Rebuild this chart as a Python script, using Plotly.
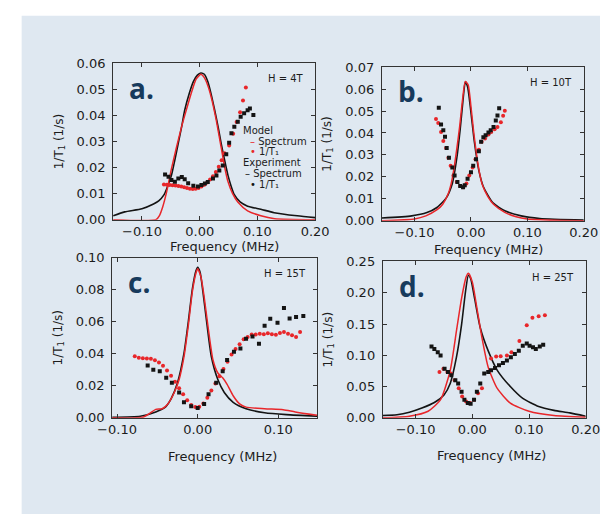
import plotly.graph_objects as go

# ---------------- data ----------------
# Panel a (H = 4T)
a_spec_exp_x = [-0.150, -0.130, -0.100, -0.080, -0.071, -0.062, -0.057, -0.049, -0.043, -0.037, -0.031, -0.026, -0.018, -0.011, -0.004, 0.002, 0.008, 0.014, 0.020, 0.026, 0.032, 0.037, 0.043, 0.049, 0.055, 0.060, 0.070, 0.083, 0.106, 0.129, 0.169, 0.200]
a_spec_exp_y = [0.0015, 0.0030, 0.0042, 0.0060, 0.0072, 0.0095, 0.0120, 0.0170, 0.0230, 0.0295, 0.0360, 0.0420, 0.0485, 0.0530, 0.0555, 0.0563, 0.0558, 0.0530, 0.0480, 0.0420, 0.0355, 0.0295, 0.0230, 0.0170, 0.0125, 0.0096, 0.0068, 0.0052, 0.0040, 0.0027, 0.0015, 0.0008]
a_spec_mod_x = [-0.150, -0.076, -0.070, -0.064, -0.058, -0.049, -0.040, -0.031, -0.022, -0.014, -0.006, 0.002, 0.008, 0.014, 0.020, 0.028, 0.037, 0.043, 0.049, 0.057, 0.066, 0.083, 0.106, 0.130, 0.200]
a_spec_mod_y = [0.0, 0.0, 0.0015, 0.0050, 0.0100, 0.0195, 0.0280, 0.0360, 0.0430, 0.0490, 0.0540, 0.0558, 0.0545, 0.0515, 0.0470, 0.0390, 0.0280, 0.0205, 0.0146, 0.0100, 0.0068, 0.0034, 0.0015, 0.0004, 0.0]
a_t1_mod_x = [-0.062, -0.057, -0.052, -0.047, -0.042, -0.037, -0.032, -0.027, -0.022, -0.017, -0.012, -0.007, -0.002, 0.003, 0.008, 0.013, 0.018, 0.023, 0.028, 0.033, 0.038, 0.043, 0.051, 0.058, 0.064, 0.070, 0.075, 0.080]
a_t1_mod_y = [0.0135, 0.0134, 0.0133, 0.0132, 0.0131, 0.0129, 0.0127, 0.0125, 0.0122, 0.0119, 0.0118, 0.0119, 0.0122, 0.0127, 0.0134, 0.0143, 0.0154, 0.0167, 0.0183, 0.0203, 0.0228, 0.0255, 0.0285, 0.0330, 0.0375, 0.0412, 0.0457, 0.0507]
a_t1_exp_x = [-0.060, -0.054, -0.049, -0.043, -0.037, -0.031, -0.026, -0.020, -0.011, -0.003, 0.003, 0.009, 0.014, 0.023, 0.029, 0.034, 0.040, 0.046, 0.051, 0.055, 0.060, 0.066, 0.071, 0.077, 0.083, 0.087, 0.093]
a_t1_exp_y = [0.0173, 0.0165, 0.0152, 0.0146, 0.0158, 0.0164, 0.0155, 0.0140, 0.0130, 0.0127, 0.0133, 0.0139, 0.0145, 0.0158, 0.0170, 0.0189, 0.0208, 0.0251, 0.0295, 0.0332, 0.0357, 0.0376, 0.0395, 0.0408, 0.0420, 0.0427, 0.0402]

# Panel b (H = 10T)
b_spec_exp_x = [-0.158, -0.105, -0.078, -0.061, -0.044, -0.033, -0.025, -0.019, -0.014, -0.010, -0.006, 0.000, 0.006, 0.014, 0.022, 0.039, 0.061, 0.089, 0.122, 0.200]
b_spec_exp_y = [0.0012, 0.0022, 0.0037, 0.0059, 0.0103, 0.0170, 0.0287, 0.0420, 0.0552, 0.0633, 0.0611, 0.0493, 0.0360, 0.0228, 0.0155, 0.0081, 0.0044, 0.0022, 0.0010, 0.0003]
b_spec_mod_x = [-0.158, -0.100, -0.080, -0.060, -0.050, -0.040, -0.035, -0.030, -0.025, -0.020, -0.015, -0.010, -0.005, 0.000, 0.005, 0.010, 0.015, 0.020, 0.030, 0.040, 0.060, 0.080, 0.100, 0.150, 0.200]
b_spec_mod_y = [0.0, 0.0008, 0.0022, 0.0050, 0.0075, 0.0125, 0.0170, 0.0240, 0.0330, 0.0430, 0.0550, 0.0635, 0.0620, 0.0520, 0.0400, 0.0300, 0.0220, 0.0165, 0.0110, 0.0075, 0.0038, 0.0018, 0.0008, 0.0002, 0.0]
b_t1_mod_x = [-0.062, -0.058, -0.053, -0.049, -0.044, -0.040, -0.036, -0.031, -0.025, -0.019, -0.014, -0.008, -0.003, 0.003, 0.008, 0.014, 0.019, 0.025, 0.031, 0.036, 0.042, 0.047, 0.053, 0.057, 0.060]
b_t1_mod_y = [0.0464, 0.0445, 0.0405, 0.0364, 0.0331, 0.0287, 0.0250, 0.0206, 0.0177, 0.0158, 0.0152, 0.0170, 0.0206, 0.0243, 0.0280, 0.0324, 0.0360, 0.0375, 0.0393, 0.0405, 0.0417, 0.0427, 0.0449, 0.0479, 0.0501]
b_t1_exp_x = [-0.057, -0.053, -0.049, -0.046, -0.043, -0.039, -0.033, -0.029, -0.024, -0.019, -0.014, -0.011, -0.006, 0.000, 0.004, 0.009, 0.014, 0.018, 0.022, 0.026, 0.031, 0.035, 0.040, 0.044, 0.047, 0.050]
b_t1_exp_y = [0.0515, 0.0439, 0.0412, 0.0383, 0.0331, 0.0287, 0.0243, 0.0206, 0.0177, 0.0158, 0.0152, 0.0162, 0.0191, 0.0221, 0.0250, 0.0280, 0.0317, 0.0360, 0.0380, 0.0390, 0.0402, 0.0412, 0.0427, 0.0457, 0.0480, 0.0513]

# Panel c (H = 15T)
c_spec_exp_x = [-0.106, -0.071, -0.052, -0.040, -0.033, -0.025, -0.017, -0.0115, -0.0065, -0.002, 0.000, 0.003, 0.0065, 0.0115, 0.017, 0.025, 0.033, 0.044, 0.060, 0.083, 0.110, 0.148]
c_spec_exp_y = [0.0004, 0.0010, 0.0037, 0.0067, 0.0118, 0.0219, 0.0402, 0.0604, 0.0807, 0.0919, 0.0940, 0.0909, 0.0787, 0.0584, 0.0381, 0.0239, 0.0158, 0.0097, 0.0057, 0.0032, 0.0020, 0.0010]
c_spec_mod_x = [-0.106, -0.068, -0.060, -0.052, -0.044, -0.037, -0.029, -0.023, -0.017, -0.0115, -0.0065, -0.002, 0.000, 0.004, 0.0077, 0.0135, 0.019, 0.025, 0.031, 0.0365, 0.044, 0.052, 0.060, 0.083, 0.106, 0.121, 0.148]
c_spec_mod_y = [0.0, 0.0004, 0.0026, 0.0053, 0.0057, 0.0087, 0.0158, 0.0239, 0.0380, 0.0580, 0.0790, 0.0905, 0.0930, 0.0880, 0.0767, 0.0544, 0.0361, 0.0280, 0.0250, 0.0209, 0.0138, 0.0087, 0.0067, 0.0057, 0.0051, 0.0037, 0.0016]
c_t1_mod_x = [-0.078, -0.073, -0.068, -0.063, -0.058, -0.053, -0.048, -0.043, -0.038, -0.033, -0.028, -0.023, -0.018, -0.013, -0.008, -0.003, 0.002, 0.007, 0.012, 0.017, 0.022, 0.027, 0.032, 0.037, 0.042, 0.047, 0.052, 0.057, 0.062, 0.067, 0.072, 0.077, 0.082, 0.087, 0.092, 0.097, 0.102, 0.107, 0.112, 0.117, 0.122, 0.127]
c_t1_mod_y = [0.0385, 0.0375, 0.0372, 0.0370, 0.0368, 0.0360, 0.0345, 0.0325, 0.0295, 0.0262, 0.0225, 0.0185, 0.0148, 0.0110, 0.0080, 0.0068, 0.0070, 0.0090, 0.0125, 0.0170, 0.0215, 0.0260, 0.0305, 0.0350, 0.0395, 0.0430, 0.0460, 0.0490, 0.0505, 0.0520, 0.0520, 0.0525, 0.0522, 0.0528, 0.0522, 0.0518, 0.0530, 0.0535, 0.0525, 0.0515, 0.0505, 0.0535]
c_t1_exp_x = [-0.062, -0.055, -0.047, -0.039, -0.032, -0.023, -0.017, -0.008, 0.000, 0.008, 0.0135, 0.023, 0.031, 0.0365, 0.045, 0.053, 0.060, 0.068, 0.076, 0.083, 0.090, 0.099, 0.107, 0.114, 0.122, 0.131]
c_t1_exp_y = [0.0327, 0.0300, 0.0290, 0.0250, 0.0219, 0.0158, 0.0097, 0.0073, 0.0061, 0.0087, 0.0148, 0.0219, 0.0290, 0.0361, 0.0412, 0.0432, 0.0493, 0.0507, 0.0462, 0.0574, 0.0619, 0.0594, 0.0686, 0.0620, 0.0629, 0.0635]

# Panel d (H = 25T)
d_spec_exp_x = [-0.158, -0.133, -0.111, -0.089, -0.067, -0.050, -0.039, -0.028, -0.019, -0.012, -0.007, -0.003, 0.004, 0.014, 0.028, 0.044, 0.067, 0.089, 0.117, 0.144, 0.172, 0.200]
d_spec_exp_y = [0.0037, 0.0050, 0.0090, 0.0157, 0.0246, 0.0367, 0.0550, 0.0970, 0.1490, 0.2020, 0.2280, 0.2230, 0.1910, 0.1440, 0.1070, 0.0760, 0.0500, 0.0310, 0.0180, 0.0120, 0.0080, 0.0026]
d_spec_mod_x = [-0.158, -0.111, -0.078, -0.056, -0.039, -0.028, -0.019, -0.011, -0.007, 0.000, 0.008, 0.017, 0.028, 0.044, 0.067, 0.100, 0.144, 0.200]
d_spec_mod_y = [0.0, 0.0026, 0.0105, 0.0290, 0.0760, 0.1390, 0.1910, 0.2250, 0.2310, 0.2170, 0.1760, 0.1280, 0.0810, 0.0470, 0.0236, 0.0105, 0.0037, 0.0010]
d_t1_mod_x = [-0.058, -0.051, -0.044, -0.038, -0.031, -0.024, -0.018, -0.011, -0.004, 0.003, 0.010, 0.017, 0.033, 0.042, 0.050, 0.061, 0.069, 0.083, 0.096, 0.106, 0.117, 0.128]
d_t1_mod_y = [0.0734, 0.0786, 0.0734, 0.0708, 0.0603, 0.0472, 0.0340, 0.0262, 0.0236, 0.0288, 0.0393, 0.0472, 0.0950, 0.0980, 0.0985, 0.0996, 0.1050, 0.1230, 0.1480, 0.1600, 0.1625, 0.1640]
d_t1_exp_x = [-0.072, -0.067, -0.061, -0.056, -0.049, -0.043, -0.037, -0.030, -0.025, -0.019, -0.014, -0.008, -0.003, 0.003, 0.008, 0.014, 0.021, 0.028, 0.033, 0.040, 0.047, 0.054, 0.061, 0.068, 0.075, 0.082, 0.089, 0.096, 0.101, 0.107, 0.112, 0.119, 0.125]
d_t1_exp_y = [0.1140, 0.1100, 0.1050, 0.0996, 0.0786, 0.0734, 0.0681, 0.0603, 0.0550, 0.0419, 0.0288, 0.0236, 0.0225, 0.0288, 0.0419, 0.0550, 0.0708, 0.0734, 0.0760, 0.0797, 0.0839, 0.0875, 0.0917, 0.0970, 0.1020, 0.1074, 0.1153, 0.1190, 0.1153, 0.1127, 0.1100, 0.1140, 0.1170]

panel_labels = ["a.", "b.", "c.", "d."]
field_labels = ["H = 4T", "H = 10T", "H = 15T", "H = 25T"]
x_title = "Frequency (MHz)"
y_title = "1/T<sub>1</sub> (1/s)"
y_ranges = [[0, 0.06], [0, 0.07], [0, 0.10], [0, 0.25]]
y_dticks = [0.01, 0.01, 0.02, 0.05]
x_ranges = [[-0.15, 0.20], [-0.158, 0.20], [-0.106, 0.148], [-0.158, 0.20]]

RED = "#e8262a"
BLACK = "#141414"
W, H = 614, 522

# panel boxes in pixels: (left, right, top, bottom)
boxes = [(103, 315, 58, 219), (385, 597, 62, 220), (102, 317, 258, 423), (386, 599, 262, 423)]
# x-title centres in pixels
x_title_pos = [(220, 247), (497, 250), (218, 463), (500, 462)]

def px(x):
    return x / W

def py(y):
    return 1 - y / H

panels = [
    (a_spec_exp_x, a_spec_exp_y, a_spec_mod_x, a_spec_mod_y, a_t1_mod_x, a_t1_mod_y, a_t1_exp_x, a_t1_exp_y),
    (b_spec_exp_x, b_spec_exp_y, b_spec_mod_x, b_spec_mod_y, b_t1_mod_x, b_t1_mod_y, b_t1_exp_x, b_t1_exp_y),
    (c_spec_exp_x, c_spec_exp_y, c_spec_mod_x, c_spec_mod_y, c_t1_mod_x, c_t1_mod_y, c_t1_exp_x, c_t1_exp_y),
    (d_spec_exp_x, d_spec_exp_y, d_spec_mod_x, d_spec_mod_y, d_t1_mod_x, d_t1_mod_y, d_t1_exp_x, d_t1_exp_y),
]

fig = go.Figure()
FONT = "DejaVu Sans"
TXT = "#1c1c1c"
layout = dict(
    width=W, height=H, margin=dict(l=0, r=0, t=0, b=0),
    paper_bgcolor="white", plot_bgcolor="white", showlegend=False,
    font=dict(family=FONT, color=TXT, size=12),
)
annotations = []
y_title_standoff = [10, 11, 10, 11]

for i, (sx, sy, mx, my, tmx, tmy, tex, tey) in enumerate(panels):
    n = "" if i == 0 else str(i + 1)
    xa, ya = "x" + n, "y" + n
    l, r, t, b = boxes[i]
    fig.add_trace(go.Scatter(x=sx, y=sy, mode="lines", line=dict(color=BLACK, width=1.6, shape="spline", smoothing=0.6), xaxis=xa, yaxis=ya))
    fig.add_trace(go.Scatter(x=mx, y=my, mode="lines", line=dict(color=RED, width=1.5, shape="spline", smoothing=0.6), xaxis=xa, yaxis=ya))
    fig.add_trace(go.Scatter(x=tmx, y=tmy, mode="markers", marker=dict(color=RED, size=4, symbol="circle"), xaxis=xa, yaxis=ya))
    fig.add_trace(go.Scatter(x=tex, y=tey, mode="markers", marker=dict(color=BLACK, size=4, symbol="square"), xaxis=xa, yaxis=ya))
    axis_common = dict(showline=True, linecolor="#333", linewidth=1, mirror="ticks", ticks="inside",
                       ticklen=4, tickcolor="#333", showgrid=False, zeroline=False,
                       tickfont=dict(family=FONT, size=13, color=TXT))
    layout["xaxis" + n] = dict(axis_common, domain=[px(l), px(r)], anchor=ya, range=x_ranges[i],
                               tickvals=[-0.1, 0.0, 0.1, 0.2], tickformat=".2f", ticklabelstandoff=0)
    layout["yaxis" + n] = dict(axis_common, domain=[py(b), py(t)], anchor=xa, range=y_ranges[i],
                               dtick=y_dticks[i], tick0=0, tickformat=".2f", ticklabelstandoff=4,
                               title=dict(text=y_title, font=dict(family=FONT, size=12, color=TXT), standoff=y_title_standoff[i]))
    tx, ty = x_title_pos[i]
    annotations.append(dict(text=x_title, x=px(tx), y=py(ty), xref="paper", yref="paper",
                            xanchor="center", yanchor="middle", showarrow=False,
                            font=dict(family=FONT, size=13, color=TXT)))
    annotations.append(dict(text="<b>" + panel_labels[i] + "</b>", x=px(l + 15), y=py(t + 25), xref="paper", yref="paper",
                            xanchor="left", yanchor="middle", showarrow=False,
                            font=dict(family="Open Sans", size=28, color="#173a5c")))
    annotations.append(dict(text=field_labels[i], x=px(r - 10), y=py(t + 16), xref="paper", yref="paper",
                            xanchor="right", yanchor="middle", showarrow=False,
                            font=dict(family=FONT, size=10, color=TXT)))

# legend of panel a (text entries)
leg_font = dict(family=FONT, size=10, color=TXT)
legend_rows = [
    ("Model", 237, 127),
    ("<span style='color:%s'>–</span> Spectrum" % RED, 245, 138),
    ("<span style='color:%s'>•</span> 1/T₁" % RED, 245, 149),
    ("Experiment", 237, 160),
    ("<span style='color:%s'>–</span> Spectrum" % BLACK, 239, 171),
    ("<span style='color:%s'>•</span> 1/T₁" % BLACK, 245, 183),
]
for txt, x, y in legend_rows:
    annotations.append(dict(text=txt, x=px(x), y=py(y), xref="paper", yref="paper", xanchor="left",
                            yanchor="middle", showarrow=False, font=leg_font))

layout["annotations"] = annotations
layout["shapes"] = [dict(type="rect", xref="paper", yref="paper", x0=px(7), x1=1, y0=0, y1=py(9),
                         fillcolor="#dfe8f1", line=dict(width=0), layer="below")]
fig.update_layout(**layout)
fig.write_html("out.html")
